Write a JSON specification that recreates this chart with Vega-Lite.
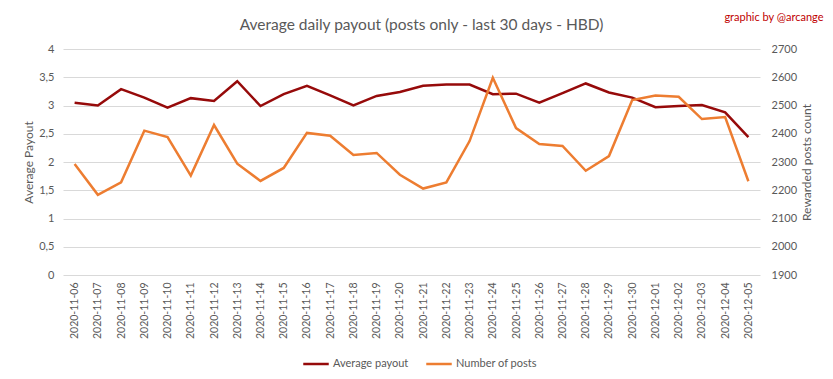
{
  "$schema": "https://vega.github.io/schema/vega-lite/v6.json",
  "width": 697,
  "height": 226,
  "autosize": {"type": "none"},
  "padding": {"left": 63, "top": 49, "right": 73, "bottom": 104},
  "background": "white",
  "config": {
    "font": "Lato",
    "view": {"stroke": null},
    "axis": {"labelColor": "#595959", "titleColor": "#595959", "labelFont": "Lato", "titleFont": "Lato", "titleFontWeight": "normal"}
  },
  "title": {
    "text": "Average daily payout (posts only - last 30 days - HBD)",
    "font": "Lato",
    "fontSize": 15.5,
    "fontWeight": "normal",
    "color": "#595959",
    "anchor": "middle",
    "dx": 10,
    "offset": -22
  },
  "data": {
    "values": [
      {"date": "2020-11-06", "payout": 3.05, "posts": 2293},
      {"date": "2020-11-07", "payout": 3.0, "posts": 2184},
      {"date": "2020-11-08", "payout": 3.29, "posts": 2228},
      {"date": "2020-11-09", "payout": 3.14, "posts": 2411},
      {"date": "2020-11-10", "payout": 2.96, "posts": 2388},
      {"date": "2020-11-11", "payout": 3.13, "posts": 2252},
      {"date": "2020-11-12", "payout": 3.08, "posts": 2431},
      {"date": "2020-11-13", "payout": 3.43, "posts": 2294},
      {"date": "2020-11-14", "payout": 2.99, "posts": 2233},
      {"date": "2020-11-15", "payout": 3.2, "posts": 2279},
      {"date": "2020-11-16", "payout": 3.35, "posts": 2403},
      {"date": "2020-11-17", "payout": 3.18, "posts": 2393},
      {"date": "2020-11-18", "payout": 3.0, "posts": 2325},
      {"date": "2020-11-19", "payout": 3.17, "posts": 2332},
      {"date": "2020-11-20", "payout": 3.24, "posts": 2255},
      {"date": "2020-11-21", "payout": 3.35, "posts": 2206},
      {"date": "2020-11-22", "payout": 3.37, "posts": 2228},
      {"date": "2020-11-23", "payout": 3.37, "posts": 2374},
      {"date": "2020-11-24", "payout": 3.2, "posts": 2598},
      {"date": "2020-11-25", "payout": 3.21, "posts": 2420},
      {"date": "2020-11-26", "payout": 3.05, "posts": 2364},
      {"date": "2020-11-27", "payout": 3.22, "posts": 2357},
      {"date": "2020-11-28", "payout": 3.39, "posts": 2269},
      {"date": "2020-11-29", "payout": 3.23, "posts": 2321},
      {"date": "2020-11-30", "payout": 3.14, "posts": 2519},
      {"date": "2020-12-01", "payout": 2.97, "posts": 2535},
      {"date": "2020-12-02", "payout": 2.99, "posts": 2531},
      {"date": "2020-12-03", "payout": 3.01, "posts": 2452},
      {"date": "2020-12-04", "payout": 2.88, "posts": 2459},
      {"date": "2020-12-05", "payout": 2.44, "posts": 2232}
    ]
  },
  "layer": [
    {
      "mark": {"type": "line", "strokeWidth": 2.5},
      "encoding": {
        "x": {
          "field": "date", "type": "nominal", "sort": null,
          "scale": {"type": "point", "padding": 0.5},
          "axis": {"title": null, "labelAngle": -90, "labelFontSize": 10.5, "labelPadding": 7, "ticks": false, "domain": false, "grid": false}
        },
        "y": {
          "field": "payout", "type": "quantitative",
          "scale": {"domain": [0, 4], "nice": false, "zero": true},
          "axis": {
            "orient": "left", "title": "Average Payout", "values": [0, 0.5, 1, 1.5, 2, 2.5, 3, 3.5, 4],
            "format": "~g",
            "labelExpr": "replace(datum.label, '.', ',')",
            "labelFontSize": 11, "titleFontSize": 12, "labelPadding": 9, "titlePadding": 3,
            "ticks": false, "domain": false, "gridColor": "#D9D9D9", "gridWidth": 1
          }
        },
        "color": {
          "datum": "Average payout", "type": "nominal",
          "scale": {"domain": ["Average payout", "Number of posts"], "range": ["#960A0A", "#ED7D31"]},
          "legend": {
            "title": null, "orient": "none", "direction": "horizontal", "legendX": 239, "legendY": 301,
            "symbolType": "stroke", "symbolStrokeWidth": 2.5, "symbolSize": 650,
            "labelFontSize": 11, "labelColor": "#595959", "labelFont": "Lato", "columnPadding": 12, "labelOffset": 3
          }
        }
      }
    },
    {
      "mark": {"type": "line", "strokeWidth": 2.5},
      "encoding": {
        "x": {
          "field": "date", "type": "nominal", "sort": null,
          "scale": {"type": "point", "padding": 0.5},
          "axis": {"orient": "top", "labels": false, "ticks": false, "domain": false, "grid": false,
            "title": "graphic by @arcange", "titleColor": "#C00000", "titleFontSize": 11, "titleAlign": "right", "titleAnchor": "end",
            "titleX": 760, "titleY": -32, "titleBaseline": "middle"}
        },
        "y": {
          "field": "posts", "type": "quantitative",
          "scale": {"domain": [1900, 2700], "nice": false, "zero": false},
          "axis": {
            "orient": "right", "title": "Rewarded posts count", "values": [1900, 2000, 2100, 2200, 2300, 2400, 2500, 2600, 2700],
            "format": "d",
            "labelFontSize": 11, "titleFontSize": 12, "labelPadding": 11, "titlePadding": 17, "titleAngle": 270,
            "ticks": false, "domain": false, "grid": false
          }
        },
        "color": {"datum": "Number of posts", "type": "nominal"}
      }
    }
  ],
  "resolve": {"scale": {"y": "independent"}, "axis": {"x": "independent"}}
}
